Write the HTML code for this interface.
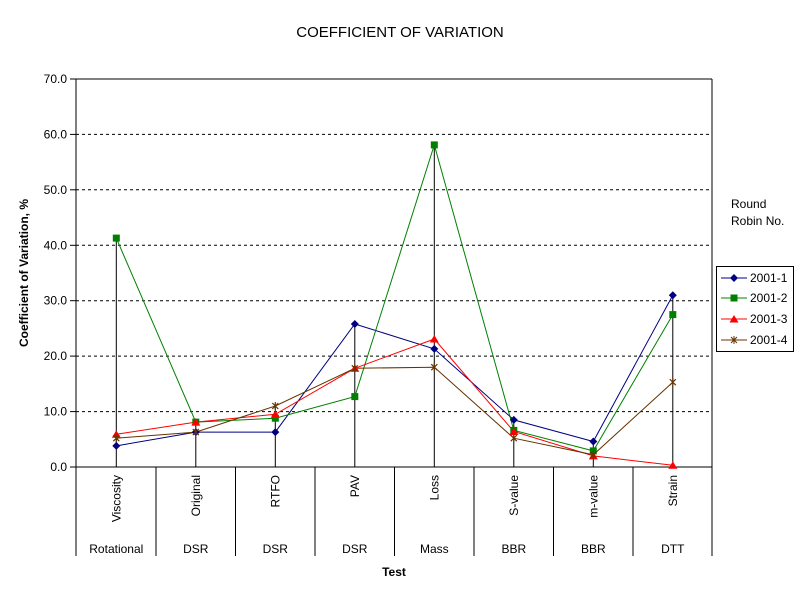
<!DOCTYPE html>
<html><head><meta charset="utf-8"><style>body{margin:0;background:#fff}svg{display:block}text{font-family:"Liberation Sans",Arial,sans-serif}</style></head><body>
<svg width="800" height="600" viewBox="0 0 800 600" xmlns="http://www.w3.org/2000/svg">
<rect width="800" height="600" fill="#fff"/>
<text x="400" y="37" font-size="15" text-anchor="middle">COEFFICIENT OF VARIATION</text>
<g stroke="#000" stroke-dasharray="3,3" stroke-width="1">
<line x1="76" y1="411.6" x2="712" y2="411.6"/><line x1="76" y1="356.1" x2="712" y2="356.1"/><line x1="76" y1="300.7" x2="712" y2="300.7"/><line x1="76" y1="245.3" x2="712" y2="245.3"/><line x1="76" y1="189.8" x2="712" y2="189.8"/><line x1="76" y1="134.4" x2="712" y2="134.4"/>
</g>
<g stroke="#000" stroke-width="1" fill="none">
<line x1="76" y1="79" x2="712" y2="79"/>
<line x1="76" y1="79" x2="76" y2="467"/>
<line x1="712" y1="79" x2="712" y2="556"/>
<line x1="70" y1="467" x2="712" y2="467"/>
<line x1="70" y1="79" x2="76" y2="79"/><line x1="70" y1="134.4" x2="76" y2="134.4"/><line x1="70" y1="189.8" x2="76" y2="189.8"/><line x1="70" y1="245.3" x2="76" y2="245.3"/><line x1="70" y1="300.7" x2="76" y2="300.7"/><line x1="70" y1="356.1" x2="76" y2="356.1"/><line x1="70" y1="411.6" x2="76" y2="411.6"/>
<line x1="76" y1="467" x2="76" y2="556"/><line x1="156" y1="467" x2="156" y2="556"/><line x1="235.5" y1="467" x2="235.5" y2="556"/><line x1="315" y1="467" x2="315" y2="556"/><line x1="394.5" y1="467" x2="394.5" y2="556"/><line x1="474" y1="467" x2="474" y2="556"/><line x1="553.5" y1="467" x2="553.5" y2="556"/><line x1="633" y1="467" x2="633" y2="556"/>
<line x1="116.3" y1="238.1" x2="116.3" y2="467"/><line x1="195.8" y1="422.1" x2="195.8" y2="467"/><line x1="275.3" y1="406" x2="275.3" y2="467"/><line x1="354.8" y1="324" x2="354.8" y2="467"/><line x1="434.3" y1="144.9" x2="434.3" y2="467"/><line x1="513.8" y1="419.9" x2="513.8" y2="467"/><line x1="593.3" y1="441.5" x2="593.3" y2="467"/><line x1="672.8" y1="295.2" x2="672.8" y2="467"/>
</g>
<g font-size="12" text-anchor="end">
<text x="67" y="83">70.0</text><text x="67" y="138.4">60.0</text><text x="67" y="193.8">50.0</text><text x="67" y="249.3">40.0</text><text x="67" y="304.7">30.0</text><text x="67" y="360.1">20.0</text><text x="67" y="415.6">10.0</text><text x="67" y="471">0.0</text>
</g>
<g font-size="12" text-anchor="end">
<text transform="translate(120.5,475) rotate(-90)">Viscosity</text>
<text transform="translate(200,475) rotate(-90)">Original</text>
<text transform="translate(279.5,475) rotate(-90)">RTFO</text>
<text transform="translate(359,475) rotate(-90)">PAV</text>
<text transform="translate(438.5,475) rotate(-90)">Loss</text>
<text transform="translate(518,475) rotate(-90)">S-value</text>
<text transform="translate(597.5,475) rotate(-90)">m-value</text>
<text transform="translate(677,475) rotate(-90)">Strain</text>
</g>
<g font-size="12" text-anchor="middle">
<text x="116.3" y="553">Rotational</text><text x="195.8" y="553">DSR</text><text x="275.3" y="553">DSR</text><text x="354.8" y="553">DSR</text><text x="434.3" y="553">Mass</text><text x="513.8" y="553">BBR</text><text x="593.3" y="553">BBR</text><text x="672.8" y="553">DTT</text>
</g>
<text x="394" y="576" font-size="12" font-weight="bold" text-anchor="middle">Test</text>
<text transform="translate(28,273) rotate(-90)" font-size="12" font-weight="bold" text-anchor="middle">Coefficient of Variation, %</text>
<polyline fill="none" stroke="#000080" points="116.3,445.9 195.8,432.1 275.3,432.1 354.8,324 434.3,348.9 513.8,419.9 593.3,441.5 672.8,295.2"/>
<polyline fill="none" stroke="#008000" points="116.3,238.1 195.8,422.1 275.3,418.2 354.8,396.6 434.3,144.9 513.8,430.4 593.3,450.9 672.8,314.6"/>
<polyline fill="none" stroke="#ff0000" points="116.3,434.3 195.8,422.1 275.3,414.3 354.8,368.3 434.3,339 513.8,431.5 593.3,455.9 672.8,465.3"/>
<polyline fill="none" stroke="#663300" points="116.3,438.2 195.8,432.1 275.3,406 354.8,368.3 434.3,367.2 513.8,438.2 593.3,454.8 672.8,382.2"/>
<g fill="#000080">
<path d="M116.3,441.9l4,4l-4,4l-4,-4z"/><path d="M195.8,428.1l4,4l-4,4l-4,-4z"/><path d="M275.3,428.1l4,4l-4,4l-4,-4z"/><path d="M354.8,320l4,4l-4,4l-4,-4z"/><path d="M434.3,344.9l4,4l-4,4l-4,-4z"/><path d="M513.8,415.9l4,4l-4,4l-4,-4z"/><path d="M593.3,437.5l4,4l-4,4l-4,-4z"/><path d="M672.8,291.2l4,4l-4,4l-4,-4z"/>
</g>
<g fill="#008000">
<rect x="112.8" y="234.6" width="7" height="7"/><rect x="192.3" y="418.6" width="7" height="7"/><rect x="271.8" y="414.7" width="7" height="7"/><rect x="351.3" y="393.1" width="7" height="7"/><rect x="430.8" y="141.4" width="7" height="7"/><rect x="510.3" y="426.9" width="7" height="7"/><rect x="589.8" y="447.4" width="7" height="7"/><rect x="669.3" y="311.1" width="7" height="7"/>
</g>
<g fill="#ff0000">
<path d="M116.3,430.3l4.5,7.5h-9z"/><path d="M195.8,418.1l4.5,7.5h-9z"/><path d="M275.3,410.3l4.5,7.5h-9z"/><path d="M354.8,364.3l4.5,7.5h-9z"/><path d="M434.3,335l4.5,7.5h-9z"/><path d="M513.8,427.5l4.5,7.5h-9z"/><path d="M593.3,451.9l4.5,7.5h-9z"/><path d="M672.8,461.3l4.5,7.5h-9z"/>
</g>
<g stroke="#663300" stroke-width="1.2">
<path d="M113.3,435.2l6,6m0,-6l-6,6M116.3,434.2v8"/><path d="M192.8,429.1l6,6m0,-6l-6,6M195.8,428.1v8"/><path d="M272.3,403l6,6m0,-6l-6,6M275.3,402v8"/><path d="M351.8,365.3l6,6m0,-6l-6,6M354.8,364.3v8"/><path d="M431.3,364.2l6,6m0,-6l-6,6M434.3,363.2v8"/><path d="M510.8,435.2l6,6m0,-6l-6,6M513.8,434.2v8"/><path d="M590.3,451.8l6,6m0,-6l-6,6M593.3,450.8v8"/><path d="M669.8,379.2l6,6m0,-6l-6,6M672.8,378.2v8"/>
</g>
<text x="731" y="208" font-size="12">Round</text>
<text x="731" y="225" font-size="12">Robin No.</text>
<rect x="716.5" y="266.5" width="77" height="85" fill="#fff" stroke="#000"/>
<g font-size="12">
<line x1="721" y1="278" x2="747" y2="278" stroke="#000080"/><path d="M734,274l4,4l-4,4l-4,-4z" fill="#000080"/><text x="750" y="282">2001-1</text>
<line x1="721" y1="298" x2="747" y2="298" stroke="#008000"/><rect x="730.5" y="294.5" width="7" height="7" fill="#008000"/><text x="750" y="302">2001-2</text>
<line x1="721" y1="319" x2="747" y2="319" stroke="#ff0000"/><path d="M734,315l4.5,7.5h-9z" fill="#ff0000"/><text x="750" y="323">2001-3</text>
<line x1="721" y1="340" x2="747" y2="340" stroke="#663300"/><path d="M731,337l6,6m0,-6l-6,6M734,336v8" stroke="#663300"/><text x="750" y="344">2001-4</text>
</g>
</svg>
</body></html>
